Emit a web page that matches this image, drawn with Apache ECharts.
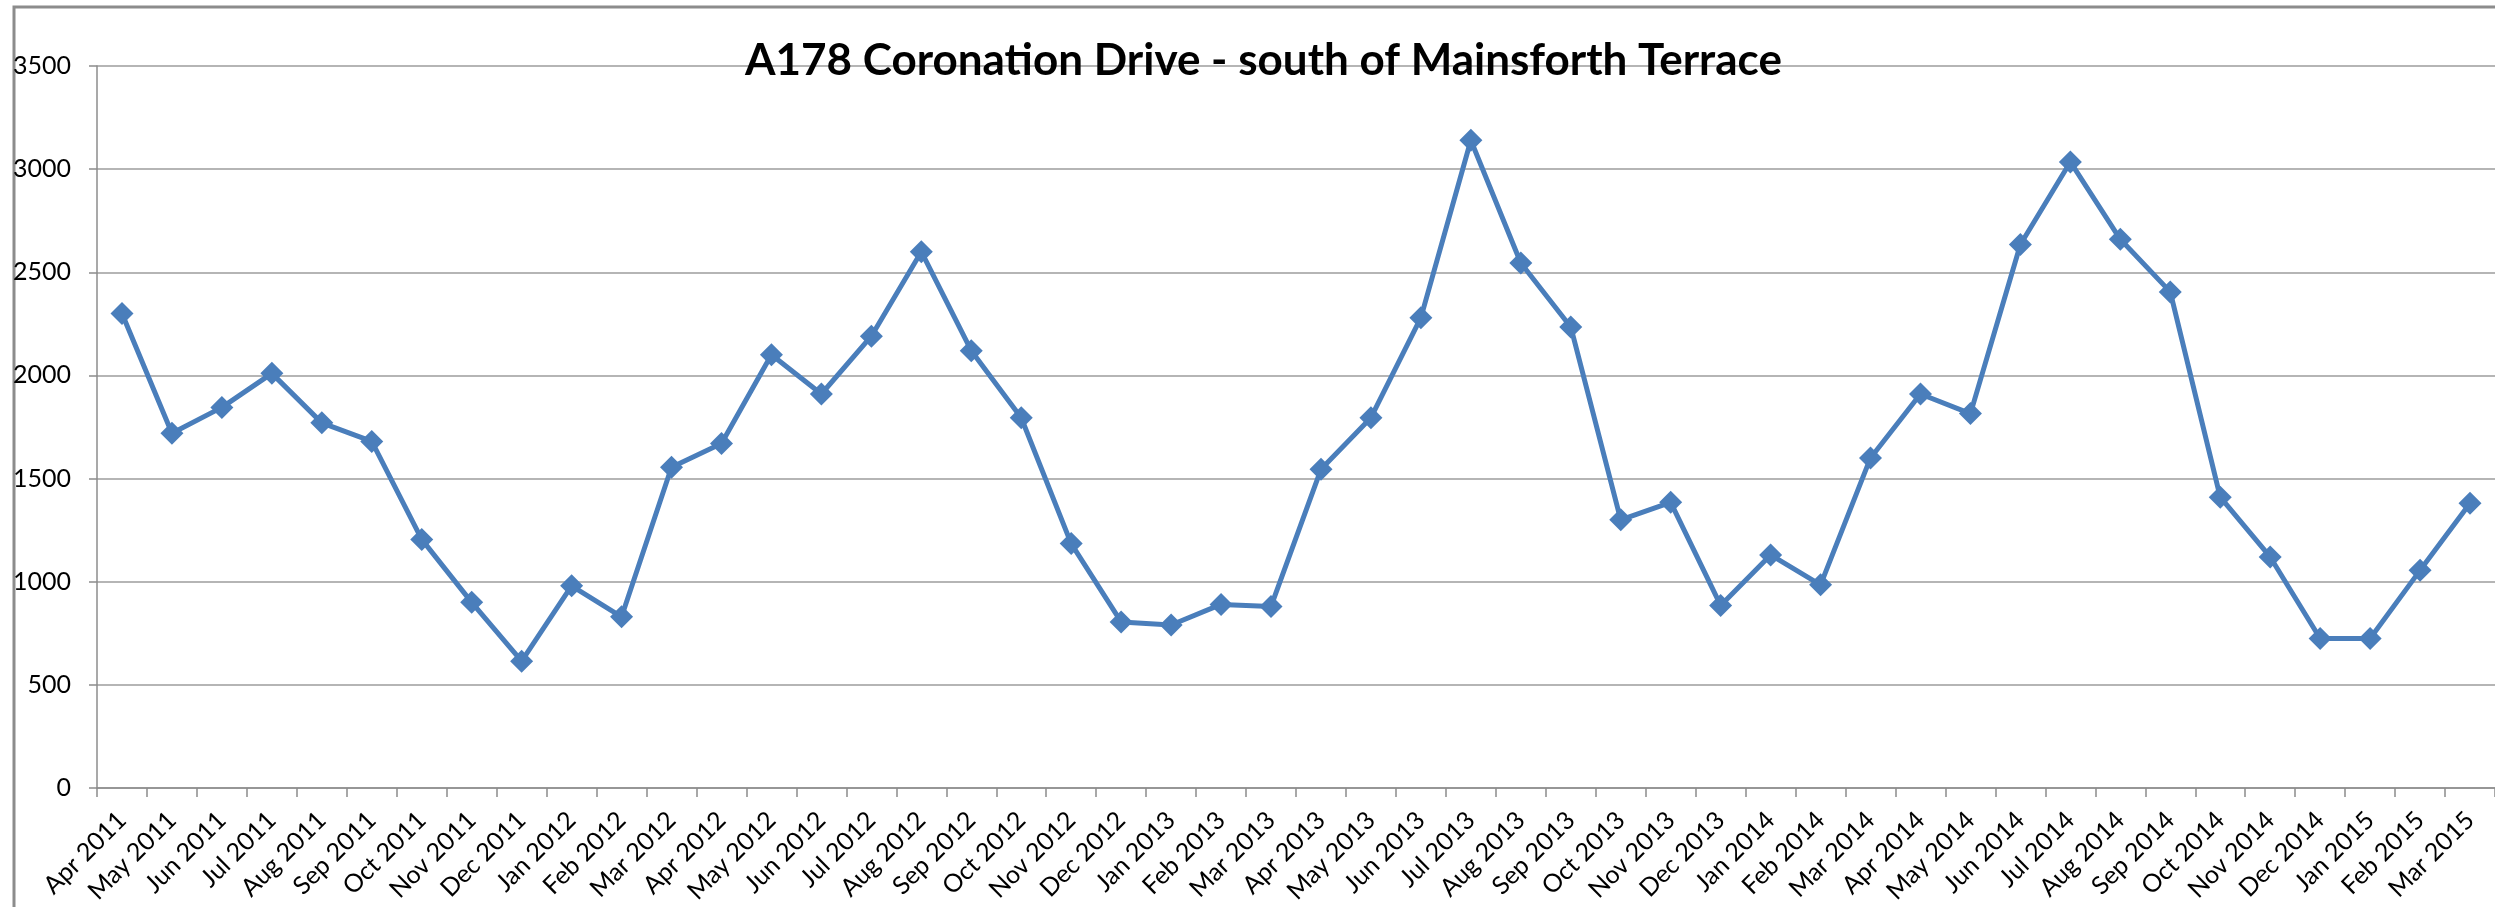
<!DOCTYPE html>
<html lang="en">
<head>
<meta charset="UTF-8">
<title>A178 Coronation Drive - south of Mainsforth Terrace</title>
<script src="https://cdn.jsdelivr.net/npm/echarts@6/dist/echarts.min.js"></script>
<style>
    html, body { margin: 0; padding: 0; background: #fff; }
    #chart { width: 2495px; height: 907px; }
</style>
</head>
<body>
<div id="chart"></div>

<script>
    // monthly counts, Apr 2011 - Mar 2015
    const months = [
        'Apr 2011', 'May 2011', 'Jun 2011', 'Jul 2011', 'Aug 2011', 'Sep 2011',
        'Oct 2011', 'Nov 2011', 'Dec 2011', 'Jan 2012', 'Feb 2012', 'Mar 2012',
        'Apr 2012', 'May 2012', 'Jun 2012', 'Jul 2012', 'Aug 2012', 'Sep 2012',
        'Oct 2012', 'Nov 2012', 'Dec 2012', 'Jan 2013', 'Feb 2013', 'Mar 2013',
        'Apr 2013', 'May 2013', 'Jun 2013', 'Jul 2013', 'Aug 2013', 'Sep 2013',
        'Oct 2013', 'Nov 2013', 'Dec 2013', 'Jan 2014', 'Feb 2014', 'Mar 2014',
        'Apr 2014', 'May 2014', 'Jun 2014', 'Jul 2014', 'Aug 2014', 'Sep 2014',
        'Oct 2014', 'Nov 2014', 'Dec 2014', 'Jan 2015', 'Feb 2015', 'Mar 2015'
    ];
    const counts = [
        2300, 1720, 1845, 2010, 1770, 1680, 1205, 900, 615, 980, 830, 1555,
        1670, 2100, 1910, 2190, 2600, 2120, 1795, 1185, 805, 790, 890, 880,
        1545, 1795, 2280, 3140, 2545, 2235, 1300, 1385, 885, 1130, 985, 1600,
        1910, 1815, 2635, 3035, 2660, 2405, 1410, 1120, 725, 725, 1055, 1380
    ];
    const yTicks = { min: 0, max: 3500, step: 500 };

    const chart = echarts.init(document.getElementById('chart'));
    const font = 'Lato, "Open Sans", sans-serif';

    chart.setOption({
        animation: false,
        backgroundColor: '#fff',
        title: {
            text: 'A178 Coronation Drive - south of Mainsforth Terrace',
            left: 740,
            top: 34,
            textStyle: { fontFamily: font, fontSize: 44, fontWeight: 'bold', color: '#000' }
        },
        graphic: [{
            type: 'rect',
            shape: { x: 14, y: 7, width: 3000, height: 2000 },
            style: { fill: 'none', stroke: '#8c8c8c', lineWidth: 3 },
            silent: true
        }],
        grid: { left: 97, top: 66, width: 2403, bottom: 119 },
        xAxis: {
            type: 'category',
            data: months,
            boundaryGap: true,
            axisLine: { lineStyle: { color: '#8c8c8c', width: 1.5 } },
            axisTick: { show: true, interval: 0, length: 9, lineStyle: { color: '#8c8c8c', width: 1.5 } },
            axisLabel: {
                interval: 0,
                rotate: 45,
                margin: 28,
                fontFamily: font,
                fontSize: 25,
                color: '#000'
            }
        },
        yAxis: {
            type: 'value',
            min: yTicks.min,
            max: yTicks.max,
            interval: yTicks.step,
            axisLine: { show: true, lineStyle: { color: '#8c8c8c', width: 1.5 } },
            axisTick: { show: true, length: 8, lineStyle: { color: '#8c8c8c', width: 1.5 } },
            axisLabel: {
                margin: 26,
                fontFamily: font,
                fontSize: 25,
                color: '#000',
                formatter: v => String(v)
            },
            splitLine: { lineStyle: { color: '#9c9c9c', width: 1.5 } }
        },
        series: [{
            type: 'line',
            data: counts,
            symbol: 'diamond',
            symbolSize: 23,
            lineStyle: { color: '#4a7ebb', width: 5 },
            itemStyle: { color: '#4a7ebb' }
        }]
    });
</script>
</body>
</html>
